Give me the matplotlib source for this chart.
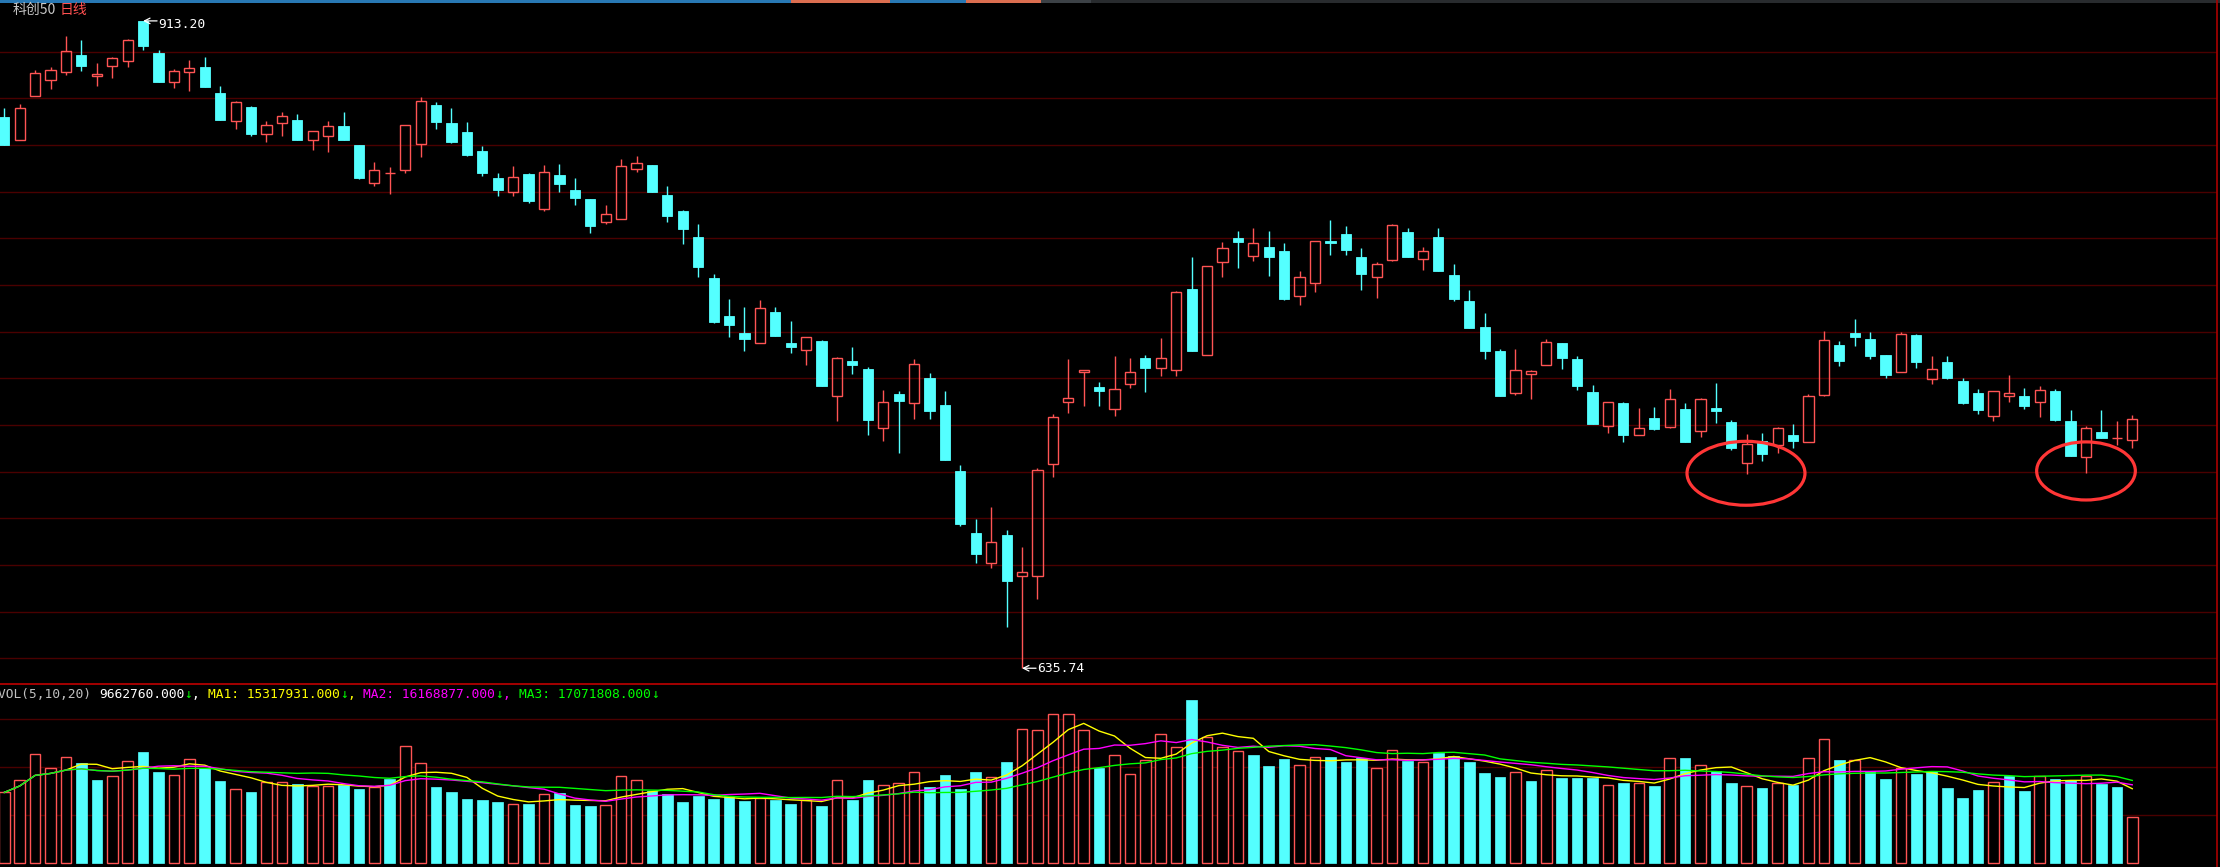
import numpy as np
import pandas as pd
import matplotlib
matplotlib.use('Agg')
import matplotlib.pyplot as plt
from matplotlib.patches import Rectangle, Ellipse

# daily candles of the index (oldest -> newest)
opens = [872.1, 862.1, 880.8, 887.8, 891.2, 898.6, 889.5, 893.8, 896.2, 913.2,
         899.5, 886.8, 891.2, 893.5, 882.3, 870.2, 876.3, 864.6, 869.3, 870.8,
         862.1, 863.8, 868.2, 860.1, 843.9, 848.0, 849.5, 860.4, 877.2, 869.4,
         865.5, 857.5, 845.8, 839.8, 847.5, 832.5, 847.1, 840.8, 836.9, 826.8,
         828.5, 849.9, 851.5, 838.6, 831.8, 820.6, 802.9, 786.8, 779.5, 775.3,
         788.5, 775.2, 772.1, 775.9, 752.3, 767.5, 764.0, 738.6, 753.3, 749.3,
         760.2, 748.6, 720.3, 693.8, 680.8, 692.9, 675.2, 675.2, 723.2, 749.8,
         762.6, 756.3, 747.0, 757.5, 768.6, 764.3, 763.7, 798.3, 769.9, 809.8,
         820.1, 812.6, 816.2, 814.6, 795.5, 801.0, 818.9, 821.9, 812.0, 803.3,
         810.6, 822.8, 811.1, 820.5, 804.2, 793.2, 782.0, 771.8, 753.9, 761.8,
         765.5, 775.2, 768.3, 754.2, 739.5, 749.3, 735.5, 742.9, 739.3, 746.9,
         737.6, 747.3, 741.2, 723.5, 733.1, 731.6, 735.8, 732.9, 753.0, 774.3,
         779.5, 776.9, 770.0, 762.6, 778.6, 759.9, 767.0, 758.9, 753.8, 743.8,
         752.3, 752.5, 750.0, 754.6, 741.8, 726.2, 737.1, 734.4, 733.5]
highs = [875.9, 877.5, 892.2, 893.5, 906.8, 905.1, 895.2, 897.6, 905.5, 913.2,
         900.8, 892.6, 896.5, 897.8, 885.3, 878.9, 876.8, 870.3, 874.2, 873.3,
         865.9, 870.3, 874.2, 860.1, 852.8, 850.6, 868.5, 880.6, 878.4, 875.8,
         869.8, 859.5, 848.1, 851.1, 848.1, 851.5, 851.9, 845.9, 836.9, 834.3,
         854.1, 855.3, 851.5, 842.5, 832.2, 826.2, 804.8, 794.0, 790.6, 793.6,
         790.6, 784.6, 777.6, 776.5, 769.1, 773.5, 764.9, 755.0, 754.6, 768.2,
         762.3, 754.6, 722.9, 699.8, 704.9, 695.0, 687.8, 721.5, 744.6, 768.3,
         763.5, 758.5, 769.6, 768.8, 770.0, 777.3, 797.5, 812.0, 808.1, 818.5,
         823.2, 824.5, 823.2, 818.1, 806.0, 818.8, 827.9, 825.3, 815.9, 809.9,
         826.3, 824.5, 816.3, 824.5, 809.0, 797.9, 788.0, 772.6, 772.6, 763.6,
         776.9, 775.2, 769.5, 757.2, 749.8, 749.9, 747.3, 747.8, 755.5, 749.5,
         751.6, 758.0, 742.2, 736.2, 736.6, 739.2, 740.5, 753.3, 780.3, 776.0,
         785.5, 779.9, 770.0, 779.9, 779.0, 769.6, 769.6, 760.2, 755.5, 754.6,
         761.5, 755.9, 756.8, 755.5, 746.5, 739.5, 746.5, 741.8, 744.3]
lows = [860.2, 862.1, 880.8, 884.2, 890.2, 891.9, 885.5, 888.9, 893.6, 900.8,
        887.2, 884.6, 883.3, 885.0, 870.9, 866.9, 863.9, 861.5, 864.0, 862.3,
        858.0, 856.8, 862.3, 845.6, 842.6, 839.1, 848.2, 854.9, 866.9, 861.0,
        855.5, 846.9, 838.3, 838.3, 835.2, 831.9, 840.0, 834.5, 822.5, 826.3,
        828.5, 848.6, 839.9, 827.1, 817.6, 803.5, 783.8, 777.5, 771.5, 775.3,
        778.3, 771.0, 765.5, 756.9, 741.5, 762.0, 735.5, 733.3, 728.2, 742.7,
        742.7, 725.2, 696.5, 681.0, 678.9, 653.2, 635.74, 665.2, 717.5, 745.3,
        748.3, 748.3, 744.0, 756.0, 754.3, 761.2, 761.2, 771.5, 769.9, 803.6,
        807.5, 810.5, 804.0, 793.7, 791.6, 797.2, 813.0, 813.0, 798.0, 794.6,
        810.2, 811.8, 806.6, 805.8, 793.3, 781.7, 768.3, 752.6, 753.0, 751.3,
        765.5, 764.2, 755.2, 740.6, 736.7, 732.5, 735.5, 737.9, 738.5, 732.9,
        735.0, 740.9, 729.3, 719.2, 724.7, 728.2, 730.3, 732.9, 752.6, 765.3,
        773.9, 768.3, 760.3, 762.6, 764.6, 757.7, 759.5, 749.2, 744.9, 741.9,
        749.8, 747.0, 743.6, 741.5, 726.9, 719.6, 734.6, 731.6, 730.3]
closes = [860.2, 875.8, 890.8, 892.1, 900.2, 894.0, 890.4, 897.2, 904.9, 902.6,
          887.2, 891.6, 892.9, 885.0, 870.9, 878.4, 864.9, 868.5, 872.4, 862.3,
          865.9, 868.1, 862.3, 846.0, 849.2, 848.0, 868.5, 878.8, 870.0, 861.5,
          855.9, 847.8, 840.9, 846.2, 835.8, 848.4, 843.5, 837.5, 825.5, 830.3,
          851.1, 852.2, 839.9, 829.6, 824.1, 807.9, 784.2, 783.0, 777.0, 790.1,
          778.3, 773.6, 777.6, 756.9, 768.6, 765.5, 742.3, 749.8, 750.3, 766.2,
          746.2, 725.2, 697.7, 684.5, 689.8, 673.3, 676.9, 720.6, 743.3, 751.5,
          763.5, 754.7, 755.3, 762.6, 764.6, 768.6, 796.9, 771.5, 808.1, 815.8,
          818.6, 817.9, 812.2, 794.2, 803.3, 818.8, 817.8, 815.2, 804.9, 808.9,
          825.6, 811.8, 814.5, 806.2, 794.2, 781.7, 771.9, 752.6, 763.5, 763.1,
          775.5, 768.9, 756.9, 740.6, 749.8, 735.5, 738.6, 738.3, 751.1, 732.9,
          751.1, 745.8, 730.3, 731.9, 727.7, 738.6, 733.3, 752.3, 776.3, 767.6,
          777.5, 769.7, 761.5, 778.9, 767.0, 763.9, 760.3, 749.6, 746.6, 754.6,
          753.6, 748.3, 755.0, 742.3, 726.9, 738.6, 734.6, 734.4, 742.6]
# volume, millions of shares
volume = [14.7, 17.4, 22.7, 19.9, 22.2, 20.9, 17.2, 18.1, 21.3, 23.2,
          19.0, 18.3, 21.6, 19.9, 17.1, 15.4, 14.8, 16.8, 16.8, 16.5,
          16.0, 16.0, 16.2, 15.4, 15.9, 17.6, 24.5, 20.8, 15.8, 14.8,
          13.3, 13.1, 12.7, 12.2, 12.3, 14.3, 14.5, 12.1, 11.9, 12.0,
          18.1, 17.3, 15.0, 14.4, 12.7, 14.0, 13.3, 13.9, 12.9, 13.5,
          13.2, 12.3, 13.1, 11.9, 17.4, 13.1, 17.3, 16.2, 16.6, 18.9,
          15.8, 18.3, 15.4, 19.0, 17.9, 21.1, 27.9, 27.7, 31.2, 31.2,
          27.7, 19.9, 22.5, 18.5, 21.4, 26.9, 24.3, 34.0, 26.2, 24.1,
          23.3, 22.5, 20.2, 21.7, 20.4, 22.2, 22.1, 21.1, 21.8, 19.9,
          23.5, 21.3, 21.0, 23.0, 22.3, 21.1, 18.8, 17.9, 18.9, 17.1,
          19.3, 17.7, 17.7, 17.8, 16.2, 16.7, 16.6, 16.0, 22.0, 21.9,
          20.4, 19.1, 16.7, 16.0, 15.6, 16.6, 16.2, 22.0, 25.8, 21.5,
          21.5, 19.1, 17.5, 19.8, 18.5, 19.1, 15.6, 13.5, 15.2, 16.8,
          18.1, 15.0, 18.1, 17.6, 17.3, 18.1, 16.5, 15.8, 9.66276]

ma_periods = [5, 10, 20]
ma_names = ['MA1', 'MA2', 'MA3']
legend_nums = ['9662760.000', '15317931.000', '16168877.000', '17071808.000']
# circled areas: (candle index, price, width in candles, height in points)
circled = [(112.95, 719.3, 7.65, 27.4), (135.0, 720.3, 6.4, 24.9)]

RED = '#ff5454'
CYAN = '#54ffff'
GRID = '#4a0000'
MA_COLORS = ['#ffff00', '#ff00ff', '#00ff00']

W, H = 2220, 867
STEP, X0 = 15.42, 4.3          # px between candles, px of first candle
SPLIT, RIGHT = 684, 2217       # panel separator / right border (px)

def fx(x):
    return x / W

def fy(y):
    return 1 - y / H

fig = plt.figure(figsize=(W / 100, H / 100), dpi=100, facecolor='black')
ax = fig.add_axes([0, fy(SPLIT), fx(RIGHT), SPLIT / H])
axv = fig.add_axes([0, 0, fx(RIGHT), (H - SPLIT) / H])
for a in (ax, axv):
    a.set_facecolor('black')
    a.set_xlim(-X0 / STEP, (RIGHT - X0) / STEP)
    a.axis('off')
ax.set_ylim(628.98, 922.16)
axv.set_ylim(-0.9, 37.38)

for p in range(640, 901, 20):
    ax.axhline(p, color=GRID, lw=1.0, zorder=0)
for v in (10, 20, 30):
    axv.axhline(v, color=GRID, lw=1.0, zorder=0)

n = len(closes)
bw = 0.66
for i in range(n):
    o, h, l, c = opens[i], highs[i], lows[i], closes[i]
    if c >= o:
        if h > c:
            ax.vlines(i, c, h, color=RED, lw=1.0, zorder=2)
        if l < o:
            ax.vlines(i, l, o, color=RED, lw=1.0, zorder=2)
        ax.add_patch(Rectangle((i - bw / 2, o), bw, c - o, fill=False,
                               edgecolor=RED, lw=1.0, zorder=3))
    else:
        ax.vlines(i, l, h, color=CYAN, lw=1.0, zorder=2)
        ax.add_patch(Rectangle((i - bw / 2, c), bw, o - c, facecolor=CYAN,
                               edgecolor=CYAN, lw=0.6, zorder=3))

# high / low markers
ih = int(np.argmax(highs))
il = int(np.argmin(lows))
for idx, val, dy in [(ih, highs[ih], -4), (il, lows[il], 0)]:
    ax.annotate('', xy=(idx, val), xytext=(14, 0), textcoords='offset pixels',
                arrowprops=dict(arrowstyle='->', color='white', lw=0.9,
                                shrinkA=0, shrinkB=0))
    ax.annotate(f'{val:.2f}', xy=(idx, val), xytext=(15, dy),
                textcoords='offset pixels', color='white', fontsize=9.4,
                family='DejaVu Sans Mono', va='center', ha='left')

for cx, cy, ew, eh in circled:
    ax.add_patch(Ellipse((cx, cy), ew, eh, fill=False, edgecolor='#ff3636',
                         lw=2.3, zorder=5))

# volume panel: colour by close versus previous close
idx = np.arange(n)
vol = np.array(volume)
cl = np.array(closes)
up = np.ones(n, dtype=bool)
up[1:] = cl[1:] >= cl[:-1]
vw = 0.69
axv.bar(idx[up], vol[up], width=vw, facecolor='black', edgecolor=RED,
        lw=1.0, zorder=2)
axv.bar(idx[~up], vol[~up], width=vw, facecolor=CYAN, edgecolor=CYAN,
        lw=0.5, zorder=2)
vs = pd.Series(vol)
for per, col in zip(ma_periods, MA_COLORS):
    axv.plot(idx, vs.rolling(per, min_periods=1).mean(), color=col, lw=1.0,
             zorder=4)

# frame lines and the tab strip on top
fig.add_artist(plt.Line2D([0, fx(RIGHT)], [fy(SPLIT), fy(SPLIT)],
                          color='#c00000', lw=1.2))
fig.add_artist(plt.Line2D([fx(RIGHT), fx(RIGHT)], [0, 1], color='#aa0000',
                          lw=1.2))
tabs = [(0, 791, '#2878b4'), (791, 890, '#dc6e50'), (890, 966, '#2878b4'),
        (966, 1041, '#dc6e50'), (1041, 1091, '#3c4146'), (1091, W, '#282b2e')]
for x1, x2, col in tabs:
    fig.add_artist(Rectangle((fx(x1), fy(3)), fx(x2 - x1), 3 / H,
                             transform=fig.transFigure, facecolor=col,
                             edgecolor='none'))

# title
fig.text(fx(13), fy(10), '科创50', family=['Noto Sans CJK SC', 'DejaVu Sans'],
         fontsize=10, color='#c8c8c8', va='center')
fig.text(fx(60), fy(10), '日线', family=['Noto Sans CJK SC', 'DejaVu Sans'],
         fontsize=10, color='#ff5050', va='center')

# volume legend, monospace so runs are placed by character count
fs = 9.3
cw = 0.60205 * fs * 100 / 72
runs = [('VOL(5,10,20) ', '#c0c0c0'), (legend_nums[0], 'white'),
        ('↓', '#00ff00'), (', ', 'white')]
for k in range(3):
    runs.append((f'{ma_names[k]}: {legend_nums[k + 1]}', MA_COLORS[k]))
    runs.append(('↓', '#00ff00'))
    if k < 2:
        runs.append((', ', MA_COLORS[k]))
x = -2.0
for s, col in runs:
    fig.text(fx(x), fy(698), s, color=col, fontsize=fs,
             family='DejaVu Sans Mono', va='baseline', ha='left')
    x += len(s) * cw

fig.savefig('out.png', dpi=100, facecolor='black')
